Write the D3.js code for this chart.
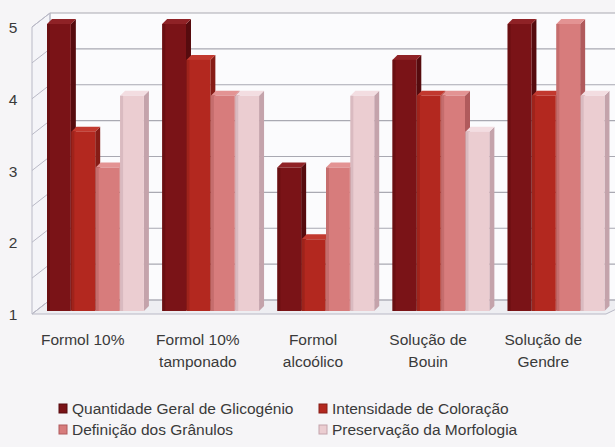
<!DOCTYPE html>
<html>
<head>
<meta charset="utf-8"/>
<title>Glicogenio</title>
<script src="https://d3js.org/d3.v7.min.js"></script>
<style>
  body { margin:0; background:#f6f5f7; }
  svg text { font-family: "Liberation Sans", Arial, sans-serif; fill:#3a3a3a; }
</style>
</head>
<body>
<div id="chart"></div>
<script>
// data
var categories = [["Formol 10%"], ["Formol 10%", "tamponado"], ["Formol", "alcoólico"], ["Solução de", "Bouin"], ["Solução de", "Gendre"]];
var seriesNames = ["Quantidade Geral de Glicogénio", "Intensidade de Coloração", "Definição dos Grânulos", "Preservação da Morfologia"];
var quantidade = [5, 5, 3, 4.5, 5];
var intensidade = [3.5, 4.5, 2, 4, 4];
var definicao = [3, 4, 3, 4, 5];
var preservacao = [4, 4, 4, 3.5, 4];
var yTicks = [1, 2, 3, 4, 5];

var W = 615, H = 447;
var series = [quantidade, intensidade, definicao, preservacao];
// front, side, top colours of each series
var colors = [
  ["#7a1317", "#560b0e", "#8f2226"],
  ["#b3281f", "#861c16", "#c2392f"],
  ["#d77c7c", "#b05a5c", "#e39393"],
  ["#ebcdd1", "#c4a3ab", "#f3dde1"]
];

var svg = d3.select("#chart").append("svg").attr("width", W).attr("height", H);

var y = d3.scaleLinear().domain([1, 5]).range([314, 27]);
var x0 = d3.scaleBand().domain(d3.range(categories.length)).range([47, 605]).paddingInner(0.154).paddingOuter(0);
var x1 = d3.scaleBand().domain(d3.range(series.length)).range([0, x0.bandwidth()]);

var dx = 18, dy = -14;   // depth of the walls
var left = 32, right = 606;

// back wall
svg.append("rect").attr("x", left + dx).attr("y", y(5) + dy).attr("width", W).attr("height", y(1) - y(5)).attr("fill", "#fbfbfd");
// left wall
svg.append("path").attr("d", "M" + left + "," + y(1) + "L" + (left + dx) + "," + (y(1) + dy) + "L" + (left + dx) + "," + (y(5) + dy) + "L" + left + "," + y(5) + "Z")
  .attr("fill", "#f4f4f8").attr("stroke", "#b9b9c6");
// floor
svg.append("path").attr("d", "M" + left + "," + y(1) + "L" + (left + dx) + "," + (y(1) + dy) + "L" + (W + 20) + "," + (y(1) + dy) + "L" + right + "," + y(1) + "Z")
  .attr("fill", "#eeeef2").attr("stroke", "#b9b9c6");

var grid = d3.range(1, 5.01, 0.5);
svg.selectAll(".grid").data(grid).enter().append("line")
  .attr("x1", left + dx).attr("x2", W)
  .attr("y1", function(d){ return y(d) + dy; }).attr("y2", function(d){ return y(d) + dy; })
  .attr("stroke", "#a9a9b2").attr("stroke-width", 1.2);
svg.selectAll(".diag").data(grid).enter().append("line")
  .attr("x1", left).attr("x2", left + dx)
  .attr("y1", function(d){ return y(d); }).attr("y2", function(d){ return y(d) + dy; })
  .attr("stroke", "#b9b9c6");
svg.append("line").attr("x1", left + dx).attr("x2", left + dx).attr("y1", y(5) + dy).attr("y2", y(1) + dy).attr("stroke", "#b9b9c6");

// y tick labels
svg.selectAll(".yt").data(yTicks).enter().append("text")
  .attr("x", 13).attr("y", function(d){ return y(d) + 6; })
  .attr("text-anchor", "middle").attr("font-size", 15.5)
  .text(function(d){ return d; });

// bars
var bo = 3, bd = 5; // offset of bar front from front plane, bar depth
var bars = [];
categories.forEach(function(c, i){
  series.forEach(function(s, j){ bars.push({i: i, j: j, v: s[i]}); });
});
var g = svg.selectAll(".bar").data(bars).enter().append("g");
g.each(function(d){
  var el = d3.select(this);
  var xl = x0(d.i) + x1(d.j), w = x1.bandwidth() - 0.5;
  var yt = y(d.v) - bo, yb = y(1) - bo;
  var c = colors[d.j];
  el.append("path").attr("d", "M" + (xl + w) + "," + yb + "L" + (xl + w + bd) + "," + (yb - bd) + "L" + (xl + w + bd) + "," + (yt - bd) + "L" + (xl + w) + "," + yt + "Z")
    .attr("fill", c[1]);
  el.append("path").attr("d", "M" + xl + "," + yt + "L" + (xl + bd) + "," + (yt - bd) + "L" + (xl + w + bd) + "," + (yt - bd) + "L" + (xl + w) + "," + yt + "Z")
    .attr("fill", c[2]);
  el.append("rect").attr("x", xl).attr("y", yt).attr("width", w).attr("height", yb - yt).attr("fill", c[0]);
  el.append("rect").attr("x", xl).attr("y", yt).attr("width", 3).attr("height", yb - yt).attr("fill", c[1]).attr("opacity", 0.45);
});

// category labels
var lab = svg.selectAll(".cat").data(categories).enter().append("text")
  .attr("text-anchor", "middle").attr("font-size", 15.5)
  .attr("transform", function(d, i){ return "translate(" + (x0(i) + x0.bandwidth() / 2 - 13) + ",345)"; });
lab.selectAll("tspan").data(function(d){ return d; }).enter().append("tspan")
  .attr("x", 0).attr("dy", function(d, k){ return k ? 22 : 0; })
  .text(function(d){ return d; });

// legend
var legX = [59, 319], legY = [414, 435];
var leg = svg.selectAll(".leg").data(seriesNames).enter().append("g")
  .attr("transform", function(d, k){ return "translate(" + legX[k % 2] + "," + legY[Math.floor(k / 2)] + ")"; });
leg.append("rect").attr("x", 0).attr("y", -10).attr("width", 8).attr("height", 9)
  .attr("fill", function(d, k){ return colors[k][0]; }).attr("stroke", function(d, k){ return colors[k][1]; });
leg.append("text").attr("x", 13).attr("y", 0).attr("font-size", 15.5).text(function(d){ return d; });
</script>
</body>
</html>
